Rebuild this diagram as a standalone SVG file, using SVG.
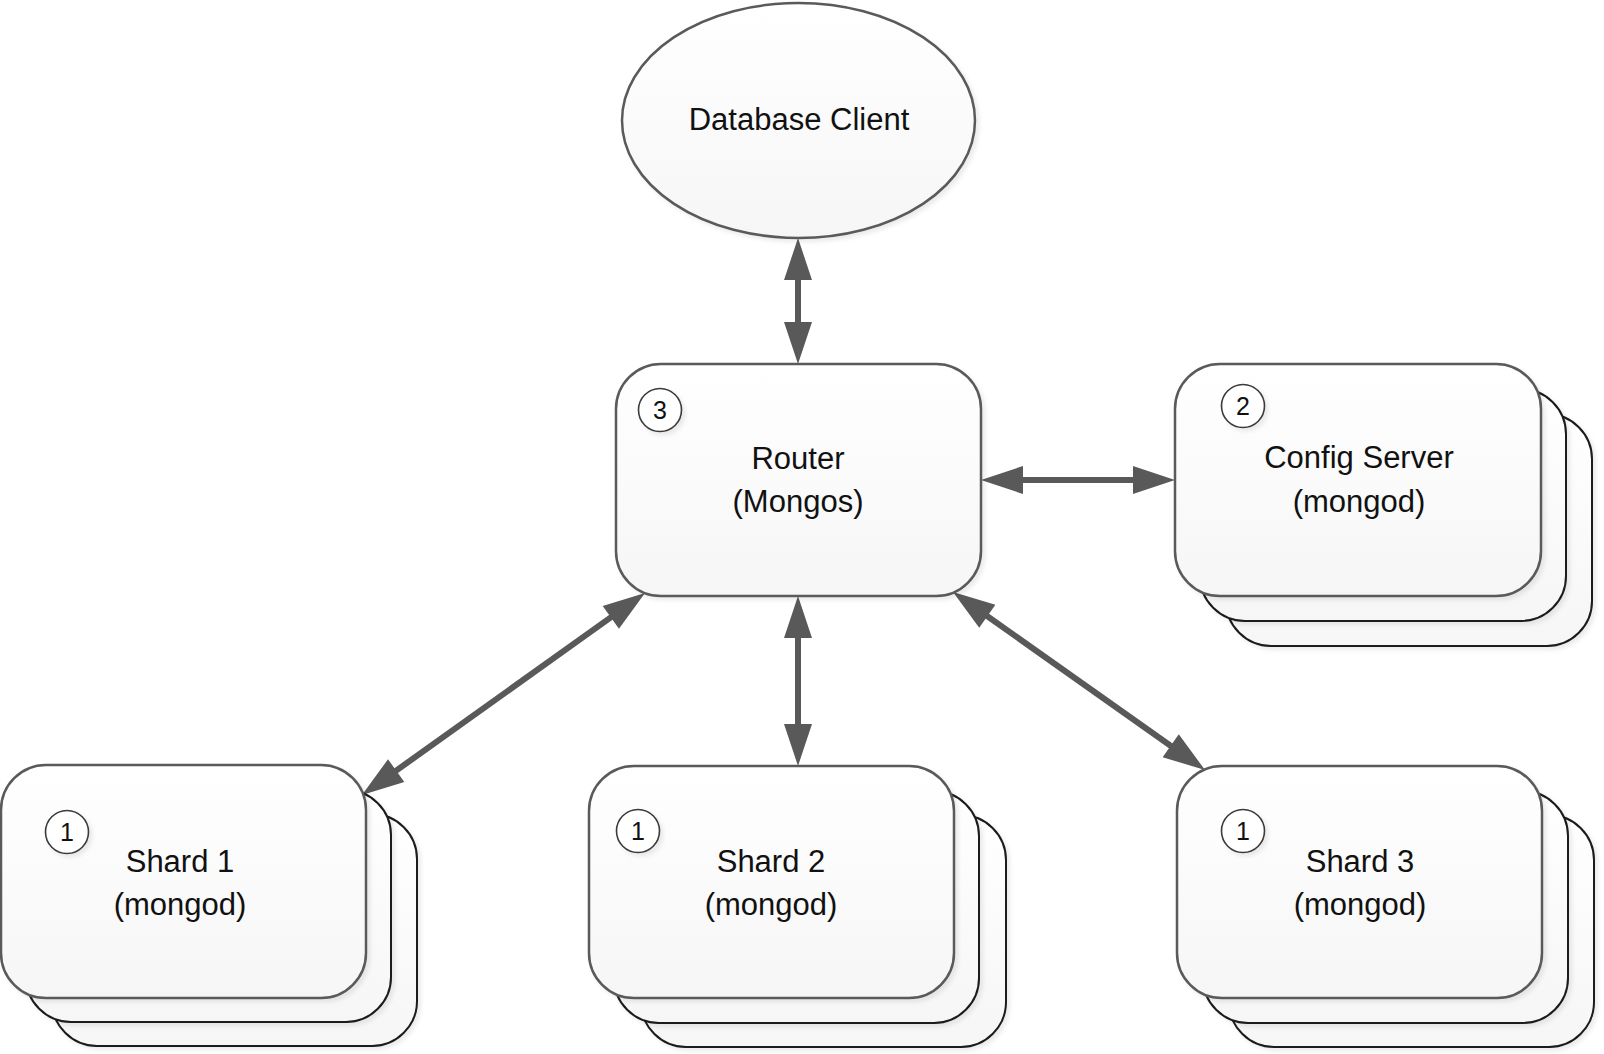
<svg xmlns="http://www.w3.org/2000/svg" width="1604" height="1054" viewBox="0 0 1604 1054">
  <style>
    .label { font-family: "Liberation Sans", Arial, sans-serif; font-size: 31px; fill: #111; text-anchor: middle; }
    .num { font-family: "Liberation Sans", Arial, sans-serif; font-size: 25px; fill: #111; text-anchor: middle; }
    .front { fill: url(#shade); stroke: #5a5a5a; stroke-width: 2.5; filter: url(#soft); }
    .back { fill: url(#shade); stroke: #1a1a1a; stroke-width: 2; filter: url(#soft); }
    .badge { fill: #ffffff; stroke: #3a3a3a; stroke-width: 1.6; filter: url(#soft); }
    .link { stroke: #595959; stroke-width: 6; fill: none; marker-start: url(#head); marker-end: url(#head); }
  </style>
  <defs>
    <linearGradient id="shade" x1="0" y1="0" x2="0" y2="1">
      <stop offset="0" stop-color="#ffffff"/>
      <stop offset="1" stop-color="#f6f6f6"/>
    </linearGradient>
    <filter id="soft" x="-10%" y="-10%" width="125%" height="125%">
      <feDropShadow dx="3" dy="3" stdDeviation="2" flood-color="#000" flood-opacity="0.08"/>
    </filter>
    <!-- arrowhead: tip sits 30 units past the (shortened) line end -->
    <marker id="head" markerUnits="userSpaceOnUse" markerWidth="44" markerHeight="30" refX="12" refY="14" orient="auto-start-reverse" viewBox="0 0 44 28" overflow="visible">
      <path d="M0,0 L42,14 L0,28 Z" fill="#595959"/>
    </marker>
  </defs>

  <rect width="1604" height="1054" fill="#ffffff"/>

  <!-- connectors -->
  <g id="connectors">
    <line class="link" x1="798" y1="268" x2="798" y2="334"/>
    <line class="link" x1="1011" y1="480" x2="1145" y2="480"/>
    <line class="link" x1="620.6" y1="610.4" x2="386.4" y2="777.6"/>
    <line class="link" x1="798" y1="626" x2="798" y2="736"/>
    <line class="link" x1="977.5" y1="609.3" x2="1180.5" y2="752.7"/>
  </g>

  <g id="client">
    <ellipse class="front" cx="798.5" cy="120.5" rx="176.5" ry="117.5"/>
    <text class="label" x="799" y="130">Database Client</text>
  </g>

  <g id="router">
    <rect class="front" x="616" y="364" width="365" height="232" rx="45" ry="45"/>
    <circle class="badge" cx="660" cy="410" r="21.5"/>
    <text class="num" x="660" y="419">3</text>
    <text class="label" x="798" y="469">Router</text>
    <text class="label" x="798" y="512">(Mongos)</text>
  </g>

  <g id="config-server">
    <rect class="back" x="1226" y="414" width="366" height="232" rx="45" ry="45"/>
    <rect class="back" x="1200" y="389" width="366" height="232" rx="45" ry="45"/>
    <rect class="front" x="1175" y="364" width="366" height="232" rx="45" ry="45"/>
    <circle class="badge" cx="1243" cy="406" r="21.5"/>
    <text class="num" x="1243" y="415">2</text>
    <text class="label" x="1359" y="468">Config Server</text>
    <text class="label" x="1359" y="512">(mongod)</text>
  </g>

  <g id="shard-1">
    <rect class="back" x="52" y="814" width="365" height="232" rx="45" ry="45"/>
    <rect class="back" x="26" y="790" width="365" height="232" rx="45" ry="45"/>
    <rect class="front" x="1" y="765" width="365" height="233" rx="45" ry="45"/>
    <circle class="badge" cx="67" cy="832" r="21.5"/>
    <text class="num" x="67" y="841">1</text>
    <text class="label" x="180" y="872">Shard 1</text>
    <text class="label" x="180" y="915">(mongod)</text>
  </g>

  <g id="shard-2">
    <rect class="back" x="641" y="815" width="365" height="232" rx="45" ry="45"/>
    <rect class="back" x="614" y="791" width="365" height="232" rx="45" ry="45"/>
    <rect class="front" x="589" y="766" width="365" height="232" rx="45" ry="45"/>
    <circle class="badge" cx="638" cy="831" r="21.5"/>
    <text class="num" x="638" y="840">1</text>
    <text class="label" x="771" y="872">Shard 2</text>
    <text class="label" x="771" y="915">(mongod)</text>
  </g>

  <g id="shard-3">
    <rect class="back" x="1229" y="815" width="365" height="232" rx="45" ry="45"/>
    <rect class="back" x="1203" y="791" width="365" height="232" rx="45" ry="45"/>
    <rect class="front" x="1177" y="766" width="365" height="232" rx="45" ry="45"/>
    <circle class="badge" cx="1243" cy="831" r="21.5"/>
    <text class="num" x="1243" y="840">1</text>
    <text class="label" x="1360" y="872">Shard 3</text>
    <text class="label" x="1360" y="915">(mongod)</text>
  </g>
</svg>
